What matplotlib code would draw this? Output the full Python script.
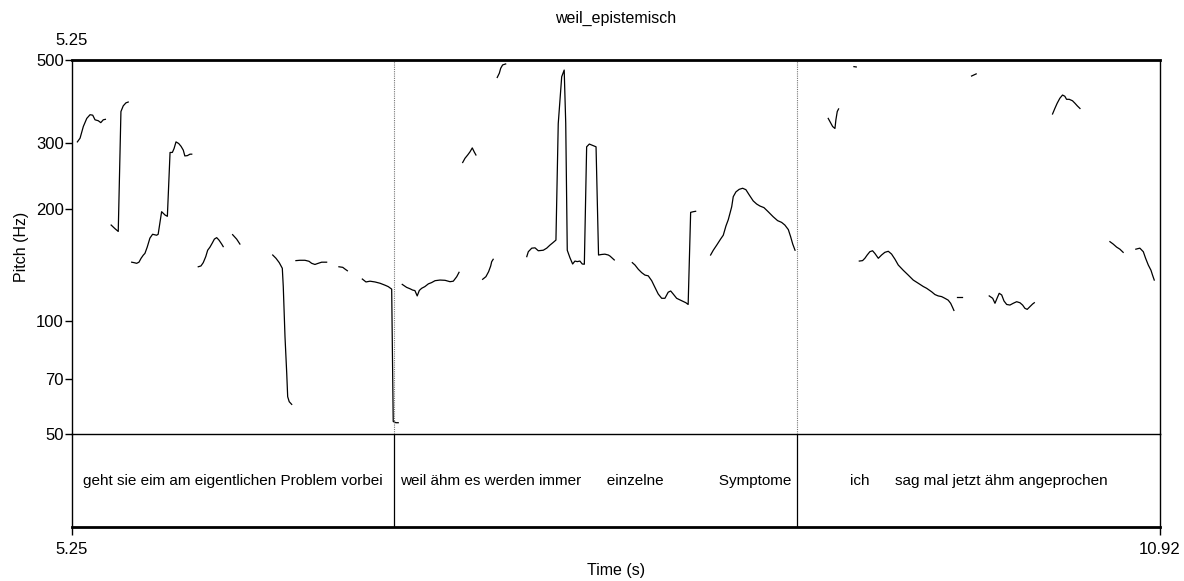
import matplotlib
matplotlib.use("Agg")
import matplotlib.pyplot as plt

plt.rcParams['font.family'] = ['Liberation Sans', 'DejaVu Sans']

title = "weil_epistemisch"
t_start, t_end = 5.25, 10.92
boundaries = [6.928, 9.028]
labels = ["geht sie eim am eigentlichen Problem vorbei",
          "weil ähm es werden immer      einzelne             Symptome",
          "ich      sag mal jetzt ähm angeprochen"]
yticks = [50, 70, 100, 200, 300, 500]

# pitch contour pieces (time in s, F0 in Hz)
t01 = [5.278, 5.292, 5.309, 5.327, 5.344, 5.358, 5.370, 5.387, 5.400, 5.413, 5.424]
f01 = [302, 309, 332, 349, 357, 356, 346, 344, 340, 346, 347]
t02 = [5.454, 5.474, 5.491, 5.505, 5.517, 5.531, 5.543]
f02 = [181, 177, 174, 364, 377, 384, 386]
t03 = [5.561, 5.573, 5.587, 5.599, 5.610, 5.622, 5.630, 5.642, 5.656, 5.670, 5.691,
       5.699, 5.717, 5.735, 5.747, 5.761, 5.773, 5.782, 5.792, 5.806, 5.818, 5.830,
       5.838, 5.851, 5.865, 5.874]
f03 = [144, 143.6, 143, 144, 147.5, 150.5, 152, 158, 167, 171, 170,
       171, 196.5, 192.5, 191, 283, 283, 290, 302, 299, 294, 287,
       277, 277.5, 280, 280]
t04 = [5.908, 5.922, 5.934, 5.947, 5.957, 5.969, 5.981, 5.992, 6.004, 6.016, 6.030, 6.038]
f04 = [140, 140.7, 143.6, 149, 155, 158, 162, 166, 167.5, 165, 161, 158.5]
t05 = [6.087, 6.108, 6.125]
f05 = [170.6, 166, 161]
t06 = [6.296, 6.313, 6.330, 6.346, 6.351, 6.360, 6.369, 6.374, 6.382, 6.395]
f06 = [150.5, 147.5, 143.6, 138.7, 124, 91, 72.7, 62.9, 61, 60]
t07 = [6.417, 6.438, 6.464, 6.485, 6.499, 6.516, 6.533, 6.551, 6.577]
f07 = [145.4, 145.7, 145.7, 144.8, 143, 142, 143, 144, 144]
t08 = [6.641, 6.661, 6.673, 6.685]
f08 = [140, 139.5, 138, 136.6]
t09 = [6.763, 6.782, 6.803, 6.829, 6.855, 6.881, 6.898, 6.916, 6.924, 6.938, 6.950]
f09 = [129.8, 127.5, 128.1, 127.5, 126.5, 125, 123.9, 122, 54, 53.6, 53.6]
t10 = [6.971, 6.994, 7.011, 7.025, 7.037, 7.049, 7.060, 7.072, 7.089, 7.107, 7.124,
       7.142, 7.168, 7.194, 7.220, 7.237, 7.255, 7.267]
f10 = [125.6, 123.3, 122.3, 121.3, 120.9, 117, 121, 122.6, 123.9, 126, 127,
       128.5, 129, 128.8, 127.7, 128.1, 131.7, 135.3]
t11 = [7.390, 7.407, 7.421, 7.432, 7.437, 7.445]
f11 = [129.6, 131.7, 135.8, 140.7, 144.4, 146.6]
t12 = [7.286, 7.298, 7.312, 7.324, 7.336, 7.346, 7.355]
f12 = [266, 273, 278.6, 284, 291, 284, 278.6]
t13 = [7.466, 7.477, 7.484, 7.494, 7.510]
f13 = [449, 461, 475, 485, 488]
t14 = [7.620, 7.628, 7.646, 7.663, 7.680, 7.706, 7.724, 7.741, 7.757, 7.772, 7.784,
       7.802, 7.815, 7.823, 7.831, 7.845, 7.859, 7.871, 7.883, 7.897, 7.909, 7.920,
       7.932, 7.946, 7.981, 7.994, 8.010, 8.027, 8.045, 8.054, 8.076]
f14 = [149, 153.6, 157, 157.3, 154.5, 155, 157, 160, 162.5, 165, 338,
       451, 470, 339, 155, 148, 142.4, 145, 144.5, 145, 142.4, 142.2,
       293, 298, 293, 150.5, 151, 151.3, 150.5, 149.5, 146]
t15 = [8.170, 8.184, 8.201, 8.219, 8.236, 8.253, 8.271, 8.288, 8.305, 8.323, 8.340,
       8.357, 8.370, 8.383, 8.401, 8.427, 8.449, 8.461, 8.474, 8.488, 8.500]
f15 = [143.6, 141.5, 137.9, 135, 133, 132.4, 128.5, 123.3, 118.4, 115.3, 115.3,
       119.7, 120.6, 118.4, 115.3, 113.6, 112.2, 111, 195.7, 196.5, 197]
t16 = [8.578, 8.592, 8.610, 8.630, 8.644, 8.658, 8.670, 8.679, 8.688, 8.696, 8.710,
       8.727, 8.745, 8.762, 8.779, 8.800, 8.818, 8.835, 8.856, 8.878, 8.904, 8.927,
       8.948, 8.965, 8.983, 8.995, 9.006, 9.018]
f16 = [150.5, 155, 160, 166, 170, 180, 187, 194.6, 202.6, 215.5, 222,
       225.5, 227, 225, 218, 210, 206, 203.5, 201.5, 196.5, 190.5, 186,
       184, 181, 176, 168.5, 161, 155]
t17 = [9.191, 9.203, 9.214, 9.226, 9.231, 9.238, 9.245]
f17 = [349, 340, 332, 328, 346, 364, 370]
t18 = [9.325, 9.337]
f18 = [480, 479]
t19 = [9.938, 9.962]
f19 = [453, 459]
t20 = [9.353, 9.370, 9.382, 9.394, 9.408, 9.422, 9.434, 9.452, 9.469, 9.486, 9.504,
       9.521, 9.539, 9.556, 9.582, 9.608, 9.634, 9.660, 9.686, 9.704, 9.730, 9.747,
       9.764, 9.782, 9.799, 9.816, 9.829, 9.839, 9.846]
f20 = [145, 145.4, 147.5, 150.5, 153.6, 154.5, 152, 147.5, 150.5, 153, 154,
       151.4, 146.6, 141.5, 137, 133, 129, 126.5, 124, 122.6, 120, 118,
       117, 116.5, 115.3, 114, 111.8, 109, 107]
t21 = [9.862, 9.890]
f21 = [116.5, 116.5]
t22 = [10.030, 10.048, 10.060, 10.072, 10.082, 10.095, 10.107, 10.121, 10.138, 10.155,
       10.173, 10.190, 10.204, 10.216, 10.228, 10.242, 10.256, 10.265]
f22 = [117, 115.3, 111.8, 115.7, 118.9, 117.7, 113.4, 111, 110.6, 111.8,
       112.9, 112.2, 110.6, 108.4, 107.7, 109.5, 111.3, 112.2]
t23 = [10.360, 10.372, 10.384, 10.398, 10.412, 10.424, 10.433, 10.447, 10.464, 10.477,
       10.489, 10.503]
f23 = [358.6, 371, 383, 395, 403, 400, 392.5, 392.5, 389, 383, 377, 371]
t24 = [10.659, 10.676, 10.694, 10.711, 10.728]
f24 = [163.4, 161, 158, 156, 153]
t25 = [10.794, 10.815, 10.833, 10.845, 10.859, 10.873, 10.881, 10.890]
f25 = [156, 157, 153.6, 147.5, 141.5, 137, 133, 129]

contours = [(t01, f01), (t02, f02), (t03, f03), (t04, f04), (t05, f05),
            (t06, f06), (t07, f07), (t08, f08), (t09, f09), (t10, f10),
            (t11, f11), (t12, f12), (t13, f13), (t14, f14), (t15, f15),
            (t16, f16), (t17, f17), (t18, f18), (t19, f19), (t20, f20),
            (t21, f21), (t22, f22), (t23, f23), (t24, f24), (t25, f25)]

fig = plt.figure(figsize=(11.84, 5.81), dpi=100)
tier = fig.add_axes([72/1184, 1 - 527/581, 1088/1184, 93/581])
ax = fig.add_axes([72/1184, 1 - 434/581, 1088/1184, 374/581])
ax.patch.set_visible(False)

# pitch panel
for t, f in contours:
    ax.plot(t, f, color='black', lw=0.9, solid_joinstyle='round')
for b in boundaries:
    ax.axvline(b, color='#777777', lw=0.8, ls=(0, (1, 1)))
ax.set_yscale('log')
ax.set_ylim(50, 500)
ax.set_xlim(t_start, t_end)
ax.set_yticks(yticks)
ax.set_yticklabels([str(v) for v in yticks])
ax.minorticks_off()
ax.tick_params(axis='y', direction='out', length=5, width=1, pad=1, labelsize=12)
ax.set_xticks([t_start])
ax.set_xticklabels(['5.25'])
ax.tick_params(axis='x', top=False, bottom=False, labeltop=True, labelbottom=False,
               pad=5, labelsize=12)
ax.set_ylabel('Pitch (Hz)', fontsize=11.5, labelpad=5)
ax.set_title(title, fontsize=11.5, pad=27)
ax.spines['top'].set_linewidth(2)
for s in ['left', 'right', 'bottom']:
    ax.spines[s].set_linewidth(1)

# text tier
tier.set_xlim(t_start, t_end)
tier.set_ylim(0, 1)
tier.set_yticks([])
for b in boundaries:
    tier.axvline(b, color='black', lw=0.9)
edges = [t_start] + boundaries + [t_end]
for i, lab in enumerate(labels):
    tier.text((edges[i] + edges[i + 1]) / 2, 0.5, lab, ha='center', va='center', fontsize=11)
tier.spines['top'].set_visible(False)
tier.spines['bottom'].set_linewidth(2)
for s in ['left', 'right']:
    tier.spines[s].set_linewidth(1)
tier.set_xticks([t_start, t_end])
tier.set_xticklabels(['5.25', '10.92'])
tier.tick_params(axis='x', direction='out', length=6, width=1, pad=5, labelsize=12)
tier.set_xlabel('Time (s)', fontsize=11.5, labelpad=4)

fig.savefig('out.png', dpi=100)
